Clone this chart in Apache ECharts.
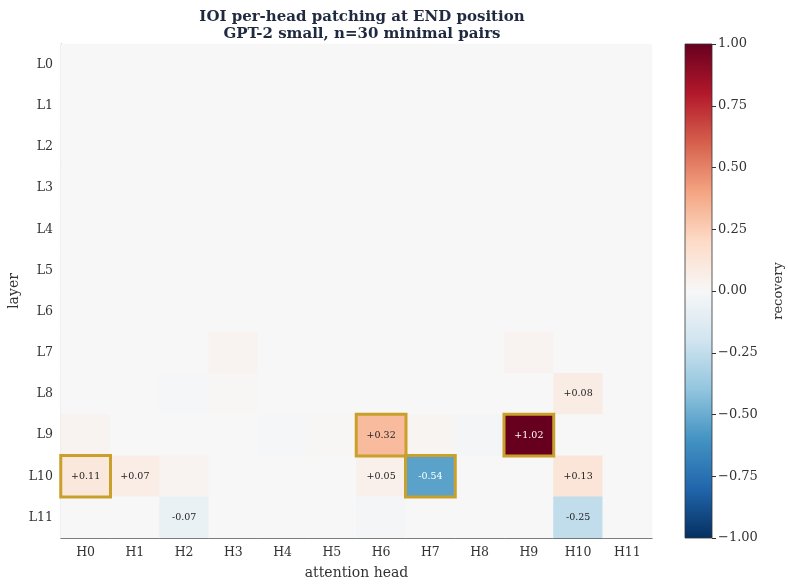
<!DOCTYPE html>
<html>
<head>
<meta charset="utf-8">
<script src="https://cdn.jsdelivr.net/npm/echarts@6/dist/echarts.min.js"></script>
<style>
  html, body { margin: 0; padding: 0; background: #fff; }
  #chart { width: 788px; height: 584px; }
</style>
</head>
<body>
<div id="chart"></div>
<script>
const heads = ['H0', 'H1', 'H2', 'H3', 'H4', 'H5', 'H6', 'H7', 'H8', 'H9', 'H10', 'H11']
const layers = ['L0', 'L1', 'L2', 'L3', 'L4', 'L5', 'L6', 'L7', 'L8', 'L9', 'L10', 'L11']
// recovery per layer (rows) and head (columns)
const recovery = [
  [0, 0, 0, 0, 0, 0, 0, 0, 0, 0, 0, 0],
  [0, 0, 0, 0, 0, 0, 0, 0, 0, 0, 0, 0],
  [0, 0, 0, 0, 0, 0, 0, 0, 0, 0, 0, 0],
  [0, 0, 0, 0, 0, 0, 0, 0, 0, 0, 0, 0],
  [0, 0, 0, 0, 0, 0, 0, 0, 0, 0, 0, 0],
  [0, 0, 0, 0, 0, 0, 0, 0, 0, 0, 0, 0],
  [0, 0, 0, 0, 0, 0, 0, 0, 0, 0, 0, 0],
  [0, 0, 0, 0.03, 0, 0, 0, 0, 0, 0.03, 0, 0],
  [0, 0, -0.01, 0.01, 0, 0, 0, 0, 0, 0, 0.08, 0],
  [0.03, 0, 0, 0, -0.01, 0.01, 0.32, 0.02, -0.02, 1.02, 0, 0],
  [0.11, 0.07, 0.03, 0, 0, 0, 0.05, -0.54, 0, 0, 0.13, 0],
  [0, 0, -0.07, 0, 0, 0, -0.02, 0, 0, 0, -0.25, 0]
]
// [head, layer] of the outlined heads
const highlighted = [[6, 9], [9, 9], [0, 10], [7, 10]]
const colorTicks = [-1, -0.75, -0.5, -0.25, 0, 0.25, 0.5, 0.75, 1]

// RdBu_r
const rdbu = ['#053061', '#2166ac', '#4393c3', '#92c5de', '#d1e5f0', '#f7f7f7',
  '#fddbc7', '#f4a582', '#d6604d', '#b2182b', '#67001f']
const serif = 'DejaVu Serif'
const gold = '#c9a02a'

let data = []
recovery.forEach((row, y) => {
  row.forEach((v, x) => {
    data.push({
      value: [x, y, v],
      label: {
        show: Math.abs(v) >= 0.05,
        color: Math.abs(v) > 0.5 ? '#fff' : '#222'
      }
    })
  })
})
let boxes = highlighted.map(h => [h[0], h[1], recovery[h[1]][h[0]]])

// colorbar halves: top goes 1 -> 0, bottom 0 -> -1
const upper = rdbu.slice(5).reverse().map((c, i) => ({ offset: i / 5, color: c }))
const lower = rdbu.slice(0, 6).reverse().map((c, i) => ({ offset: i / 5, color: c }))

const chart = echarts.init(document.getElementById('chart'), null, { renderer: 'canvas' })
chart.setOption({
  backgroundColor: '#fff',
  animation: false,
  title: {
    text: 'IOI per-head patching at END position\nGPT-2 small, n=30 minimal pairs',
    left: 357,
    textAlign: 'center',
    top: 4,
    textStyle: {
      fontFamily: serif, fontSize: 15, fontWeight: 'bold', color: '#1f2940', lineHeight: 17
    }
  },
  grid: [
    {
      left: 61, right: 136, top: 44, bottom: 46, outerBoundsMode: 'none',
      show: true, backgroundColor: '#f5f5f5', borderWidth: 0
    },
    {
      left: 685, width: 27, top: 44, bottom: 46, outerBoundsMode: 'none',
      show: true, backgroundColor: 'transparent', borderColor: '#333', borderWidth: 0.8, z: 5
    }
  ],
  xAxis: [
    {
      type: 'category',
      data: heads,
      gridIndex: 0,
      name: 'attention head',
      nameLocation: 'middle',
      nameGap: 28,
      nameTextStyle: { fontFamily: serif, fontSize: 14, color: '#333' },
      axisLine: { lineStyle: { color: '#555', width: 1.2 } },
      axisTick: { alignWithLabel: true, length: 4, lineStyle: { color: '#555' } },
      axisLabel: { fontFamily: serif, fontSize: 12.5, color: '#333', margin: 8 },
      splitLine: { show: false }
    },
    { type: 'category', data: [''], gridIndex: 1, show: false }
  ],
  yAxis: [
    {
      type: 'category',
      data: layers,
      inverse: true,
      gridIndex: 0,
      name: 'layer',
      nameLocation: 'middle',
      nameGap: 40,
      nameMoveOverlap: false,
      nameTextStyle: { fontFamily: serif, fontSize: 14, color: '#333' },
      axisLine: { lineStyle: { color: '#555', width: 1.2 } },
      axisTick: { alignWithLabel: true, length: 4, lineStyle: { color: '#555' } },
      axisLabel: { fontFamily: serif, fontSize: 12.5, color: '#333', margin: 8 },
      splitLine: { show: false }
    },
    {
      type: 'value',
      gridIndex: 1,
      position: 'right',
      min: colorTicks[0],
      max: colorTicks[colorTicks.length - 1],
      interval: 0.25,
      name: 'recovery',
      nameLocation: 'middle',
      nameGap: 60,
      nameRotate: 90,
      nameTextStyle: { fontFamily: serif, fontSize: 13, color: '#333' },
      axisLine: { show: false },
      axisTick: { show: true, length: 4, lineStyle: { color: '#333' } },
      axisLabel: {
        fontFamily: serif, fontSize: 13, color: '#333', margin: 6,
        formatter: v => (v < 0 ? '\u2212' : '') + Math.abs(v).toFixed(2)
      },
      splitLine: { show: false }
    }
  ],
  visualMap: {
    type: 'continuous',
    seriesIndex: 0,
    min: colorTicks[0],
    max: colorTicks[colorTicks.length - 1],
    show: false,
    inRange: { color: rdbu }
  },
  series: [
    {
      type: 'heatmap',
      xAxisIndex: 0,
      yAxisIndex: 0,
      data: data,
      label: {
        fontFamily: serif,
        fontSize: 9.5,
        formatter: p => {
          let v = p.value[2]
          return (v > 0 ? '+' : '-') + Math.abs(v).toFixed(2)
        }
      },
      emphasis: { disabled: true }
    },
    {
      type: 'heatmap',
      xAxisIndex: 0,
      yAxisIndex: 0,
      data: boxes,
      z: 3,
      itemStyle: { color: 'rgba(0,0,0,0)', borderColor: gold, borderWidth: 3 },
      label: { show: false },
      emphasis: { disabled: true }
    },
    {
      type: 'bar',
      xAxisIndex: 1,
      yAxisIndex: 1,
      barWidth: '100%',
      data: [colorTicks[colorTicks.length - 1]],
      itemStyle: { color: new echarts.graphic.LinearGradient(0, 0, 0, 1, upper) },
      emphasis: { disabled: true }
    },
    {
      type: 'bar',
      xAxisIndex: 1,
      yAxisIndex: 1,
      barWidth: '100%',
      barGap: '-100%',
      data: [colorTicks[0]],
      itemStyle: { color: new echarts.graphic.LinearGradient(0, 0, 0, 1, lower) },
      emphasis: { disabled: true }
    }
  ]
})
</script>
</body>
</html>
